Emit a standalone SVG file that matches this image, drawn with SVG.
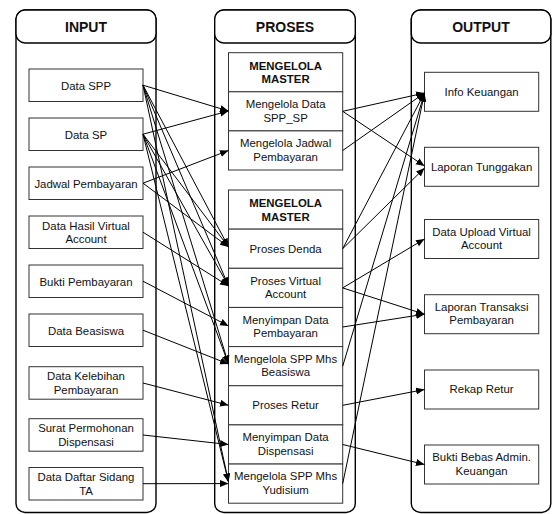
<svg xmlns="http://www.w3.org/2000/svg" width="552" height="514" viewBox="0 0 552 514">
  <style>
    .lane { fill: #fff; stroke: #000; stroke-width: 1.4; }
    .box { fill: #fff; stroke: #333; stroke-width: 1; }
    .t { font-family: "Liberation Sans", Arial, sans-serif; font-size: 11.4px; fill: #111; text-anchor: middle; }
    .h { font-family: "Liberation Sans", Arial, sans-serif; font-size: 14px; font-weight: bold; fill: #111; text-anchor: middle; }
    .hb { font-family: "Liberation Sans", Arial, sans-serif; font-size: 11.4px; font-weight: bold; fill: #111; text-anchor: middle; }
    .c { fill: none; stroke: #000; stroke-width: 1; marker-end: url(#arrow); }
  </style>
  <defs>
    <marker id="arrow" markerUnits="userSpaceOnUse" markerWidth="9" markerHeight="8" refX="8.5" refY="3.5" orient="auto">
      <path d="M0,0 L8.5,3.5 L0,7 z" fill="#000"/>
    </marker>
  </defs>

  <!-- lanes -->
  <g id="lane-input">
    <rect class="lane" x="16" y="10" width="140" height="502.5" rx="9"/>
    <rect class="lane" x="16" y="10" width="140" height="33" rx="9"/>
    <text class="h" x="86" y="31.5">INPUT</text>
  </g>
  <g id="lane-proses">
    <rect class="lane" x="214.7" y="10" width="140.6" height="502.5" rx="9"/>
    <rect class="lane" x="214.7" y="10" width="140.6" height="33" rx="9"/>
    <text class="h" x="285" y="31.5">PROSES</text>
  </g>
  <g id="lane-output">
    <rect class="lane" x="411.3" y="10" width="139.5" height="502.5" rx="9"/>
    <rect class="lane" x="411.3" y="10" width="139.5" height="33" rx="9"/>
    <text class="h" x="481" y="31.5">OUTPUT</text>
  </g>

  <!-- input nodes -->
  <g id="in-spp"><rect class="box" x="29" y="69" width="114" height="32.5"/><text class="t" x="86" y="89.5">Data SPP</text></g>
  <g id="in-sp"><rect class="box" x="29" y="118" width="114" height="32.5"/><text class="t" x="86" y="138.5">Data SP</text></g>
  <g id="in-jadwal"><rect class="box" x="29" y="167" width="114" height="32.5"/><text class="t" x="86" y="187.5">Jadwal Pembayaran</text></g>
  <g id="in-hasil-va"><rect class="box" x="29" y="216" width="114" height="32.5"/><text class="t" x="86" y="229.5">Data Hasil Virtual</text><text class="t" x="86" y="243">Account</text></g>
  <g id="in-bukti"><rect class="box" x="29" y="265" width="114" height="32.5"/><text class="t" x="86" y="285.5">Bukti Pembayaran</text></g>
  <g id="in-beasiswa"><rect class="box" x="29" y="314" width="114" height="32.5"/><text class="t" x="86" y="334.5">Data Beasiswa</text></g>
  <g id="in-kelebihan"><rect class="box" x="29" y="366.7" width="114" height="32.5"/><text class="t" x="86" y="380.2">Data Kelebihan</text><text class="t" x="86" y="393.7">Pembayaran</text></g>
  <g id="in-surat"><rect class="box" x="29" y="418.7" width="114" height="32.5"/><text class="t" x="86" y="432.2">Surat Permohonan</text><text class="t" x="86" y="445.7">Dispensasi</text></g>
  <g id="in-sidang"><rect class="box" x="29" y="467.5" width="114" height="32.5"/><text class="t" x="86" y="481">Data Daftar Sidang</text><text class="t" x="86" y="494.5">TA</text></g>

  <!-- process group 1 -->
  <g id="pr-master-1"><rect class="box" x="228.5" y="52.7" width="114.2" height="39.1"/><text class="hb" x="285.6" y="69.5">MENGELOLA</text><text class="hb" x="285.6" y="83">MASTER</text></g>
  <g id="pr-spp-sp"><rect class="box" x="228.5" y="91.8" width="114.2" height="39.1"/><text class="t" x="285.6" y="108">Mengelola Data</text><text class="t" x="285.6" y="121.5">SPP_SP</text></g>
  <g id="pr-jadwal"><rect class="box" x="228.5" y="130.9" width="114.2" height="39.1"/><text class="t" x="285.6" y="147">Mengelola Jadwal</text><text class="t" x="285.6" y="160.5">Pembayaran</text></g>

  <!-- process group 2 -->
  <g id="pr-master-2"><rect class="box" x="228.5" y="190" width="114.2" height="39.15"/><text class="hb" x="285.6" y="207">MENGELOLA</text><text class="hb" x="285.6" y="220.5">MASTER</text></g>
  <g id="pr-denda"><rect class="box" x="228.5" y="229.15" width="114.2" height="39.15"/><text class="t" x="285.6" y="252.5">Proses Denda</text></g>
  <g id="pr-va"><rect class="box" x="228.5" y="268.3" width="114.2" height="39.15"/><text class="t" x="285.6" y="284.5">Proses Virtual</text><text class="t" x="285.6" y="298">Account</text></g>
  <g id="pr-simpan-bayar"><rect class="box" x="228.5" y="307.45" width="114.2" height="39.15"/><text class="t" x="285.6" y="323.5">Menyimpan Data</text><text class="t" x="285.6" y="337">Pembayaran</text></g>
  <g id="pr-beasiswa"><rect class="box" x="228.5" y="346.6" width="114.2" height="39.15"/><text class="t" x="285.6" y="362.5">Mengelola SPP Mhs</text><text class="t" x="285.6" y="376">Beasiswa</text></g>
  <g id="pr-retur"><rect class="box" x="228.5" y="385.75" width="114.2" height="39.15"/><text class="t" x="285.6" y="409">Proses Retur</text></g>
  <g id="pr-dispensasi"><rect class="box" x="228.5" y="424.9" width="114.2" height="39.15"/><text class="t" x="285.6" y="441">Menyimpan Data</text><text class="t" x="285.6" y="454.5">Dispensasi</text></g>
  <g id="pr-yudisium"><rect class="box" x="228.5" y="464.05" width="114.2" height="39.15"/><text class="t" x="285.6" y="480">Mengelola SPP Mhs</text><text class="t" x="285.6" y="493.5">Yudisium</text></g>

  <!-- output nodes -->
  <g id="out-info"><rect class="box" x="424.5" y="72.3" width="114.2" height="39"/><text class="t" x="481.6" y="95.5">Info Keuangan</text></g>
  <g id="out-tunggakan"><rect class="box" x="424.5" y="147.3" width="114.2" height="39"/><text class="t" x="481.6" y="170.5">Laporan Tunggakan</text></g>
  <g id="out-upload-va"><rect class="box" x="424.5" y="219.5" width="114.2" height="39"/><text class="t" x="481.6" y="235.5">Data Upload Virtual</text><text class="t" x="481.6" y="249">Account</text></g>
  <g id="out-transaksi"><rect class="box" x="424.5" y="294.7" width="114.2" height="39"/><text class="t" x="481.6" y="310.5">Laporan Transaksi</text><text class="t" x="481.6" y="324">Pembayaran</text></g>
  <g id="out-rekap"><rect class="box" x="424.5" y="370" width="114.2" height="39"/><text class="t" x="481.6" y="393">Rekap Retur</text></g>
  <g id="out-bukti-bebas"><rect class="box" x="424.5" y="445" width="114.2" height="39"/><text class="t" x="481.6" y="461">Bukti Bebas Admin.</text><text class="t" x="481.6" y="474.5">Keuangan</text></g>

  <!-- connectors -->
  <g id="connectors">
    <!-- input to process -->
    <line class="c" x1="143" y1="85.2" x2="228.5" y2="111"/>
    <line class="c" x1="143" y1="134.2" x2="228.5" y2="111"/>
    <line class="c" x1="143" y1="183.2" x2="228.5" y2="150.5"/>
    <line class="c" x1="143" y1="85.2" x2="228.5" y2="247"/>
    <line class="c" x1="143" y1="85.2" x2="228.5" y2="286"/>
    <line class="c" x1="143" y1="85.2" x2="228.5" y2="364"/>
    <line class="c" x1="143" y1="85.2" x2="228.5" y2="482"/>
    <line class="c" x1="143" y1="134.2" x2="228.5" y2="247"/>
    <line class="c" x1="143" y1="134.2" x2="228.5" y2="286"/>
    <line class="c" x1="143" y1="134.2" x2="228.5" y2="364"/>
    <line class="c" x1="143" y1="134.2" x2="228.5" y2="482"/>
    <line class="c" x1="143" y1="183.2" x2="228.5" y2="247"/>
    <line class="c" x1="143" y1="232.2" x2="228.5" y2="286"/>
    <line class="c" x1="143" y1="281.2" x2="228.5" y2="326"/>
    <line class="c" x1="143" y1="330.2" x2="228.5" y2="364"/>
    <line class="c" x1="143" y1="383" x2="228.5" y2="405.3"/>
    <line class="c" x1="143" y1="435" x2="228.5" y2="444.5"/>
    <line class="c" x1="143" y1="483.7" x2="228.5" y2="483.6"/>
    <!-- process to output -->
    <line class="c" x1="342.7" y1="111.3" x2="424.5" y2="93"/>
    <line class="c" x1="342.7" y1="111.3" x2="424.5" y2="166"/>
    <line class="c" x1="342.7" y1="150.5" x2="424.5" y2="93"/>
    <line class="c" x1="342.7" y1="248.7" x2="424.5" y2="93"/>
    <line class="c" x1="342.7" y1="248.7" x2="424.5" y2="168"/>
    <line class="c" x1="342.7" y1="287.9" x2="424.5" y2="239"/>
    <line class="c" x1="342.7" y1="287.9" x2="424.5" y2="314.2"/>
    <line class="c" x1="342.7" y1="327" x2="424.5" y2="314.2"/>
    <line class="c" x1="342.7" y1="366.2" x2="424.5" y2="93"/>
    <line class="c" x1="342.7" y1="405.3" x2="424.5" y2="389.5"/>
    <line class="c" x1="342.7" y1="444.5" x2="424.5" y2="464.5"/>
    <line class="c" x1="342.7" y1="483.6" x2="424.5" y2="93"/>
  </g>
</svg>
